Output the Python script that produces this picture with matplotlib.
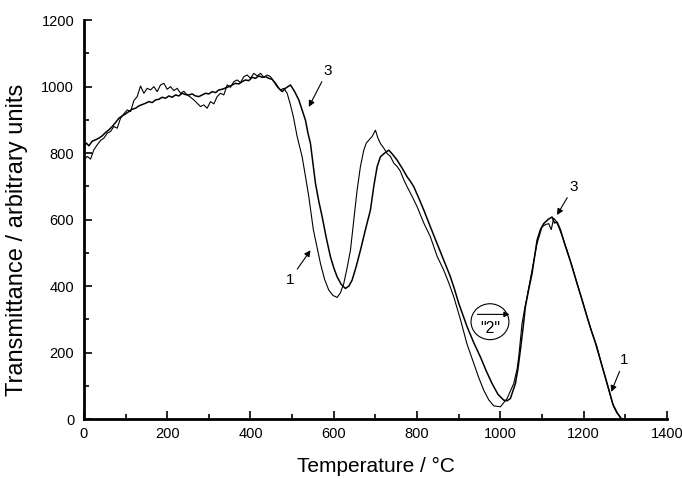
import numpy as np
import matplotlib
matplotlib.use("Agg")
import matplotlib.pyplot as plt
from matplotlib.patches import Ellipse

plt.rcParams['font.family'] = ['Liberation Sans', 'DejaVu Sans']

# curve 1 (left-shifted run)
temp_1 = [0, 8, 16, 24, 32, 40, 48, 56, 64, 72, 80, 88, 96, 104, 112, 120, 128, 136, 144, 152,
          160, 168, 176, 184, 192, 200, 208, 216, 224, 232, 240, 248, 256, 264, 272, 280, 288, 296,
          304, 312, 320, 328, 336, 344, 352, 360, 368, 376, 384, 392, 400, 408, 416, 424, 432, 440,
          448, 456, 464, 472, 480, 488, 496, 503, 512, 524, 532, 540, 551, 560, 568, 578, 588, 598,
          608, 616, 624, 632, 640, 648, 656, 664, 672, 678, 684, 692, 700, 706, 712, 720, 728, 736,
          744, 752, 760, 768, 776, 788, 800, 816, 832, 848, 864, 876, 888, 904, 920, 936, 948, 960,
          972, 984, 1000, 1016, 1032, 1040, 1044, 1052, 1058, 1064, 1076, 1088, 1100, 1108, 1116,
          1122, 1128, 1134, 1140, 1150, 1160, 1172, 1184, 1196, 1208, 1220, 1232, 1244, 1256, 1264,
          1272, 1280, 1288, 1292]
trans_1 = [780, 790, 782, 810, 825, 838, 845, 860, 865, 880, 875, 905, 918, 930, 925, 958, 970, 1002,
           980, 995, 990, 1000, 985, 1005, 1010, 992, 1000, 988, 995, 980, 986, 975, 968, 960, 950,
           940, 945, 935, 955, 948, 970, 980, 975, 1005, 998, 1015, 1020, 1012, 1030, 1035, 1025,
           1040, 1032, 1040, 1028, 1035, 1030, 1015, 1000, 990, 995, 980, 945, 909, 850, 789, 730,
           669, 569, 515, 468, 420, 388, 372, 366, 380, 408, 455, 508, 600, 689, 760, 809, 830, 839,
           850, 869, 845, 829, 815, 799, 790, 770, 760, 745, 720, 699, 670, 639, 590, 548, 490, 448,
           410, 368, 300, 225, 168, 125, 87, 58, 40, 37, 62, 107, 150, 187, 288, 330, 368, 448, 528,
           578, 585, 588, 570, 604, 595, 578, 545, 508, 460, 408, 360, 308, 260, 217, 160, 107, 70,
           37, 18, 5, 0]

# curve 3 (right-shifted run)
temp_3 = [0, 6, 12, 20, 28, 36, 44, 52, 60, 68, 76, 84, 92, 100, 108, 116, 124, 132, 140, 148, 156,
          164, 172, 180, 188, 196, 204, 212, 220, 228, 236, 244, 252, 260, 268, 276, 284, 292, 300,
          308, 316, 324, 332, 340, 348, 356, 364, 372, 380, 388, 396, 404, 412, 420, 428, 436, 444,
          452, 460, 468, 476, 484, 490, 496, 506, 516, 524, 532, 538, 544, 550, 556, 564, 572, 582,
          592, 600, 608, 618, 628, 636, 644, 654, 664, 676, 688, 696, 704, 712, 722, 732, 742, 752,
          764, 776, 784, 792, 804, 816, 832, 848, 864, 880, 890, 900, 920, 936, 952, 966, 980, 994,
          1008, 1016, 1024, 1036, 1042, 1048, 1054, 1060, 1068, 1076, 1088, 1096, 1104, 1114, 1124,
          1130, 1136, 1144, 1156, 1168, 1180, 1192, 1204, 1216, 1228, 1240, 1252, 1262, 1270, 1280,
          1290]
trans_3 = [820, 830, 822, 836, 840, 845, 852, 862, 870, 880, 892, 905, 912, 918, 925, 932, 935, 942,
           946, 950, 955, 952, 960, 962, 968, 965, 972, 968, 975, 972, 980, 976, 975, 978, 972, 970,
           975, 980, 978, 985, 982, 990, 992, 996, 1000, 1005, 1010, 1008, 1015, 1020, 1018, 1028,
           1025, 1032, 1028, 1030, 1025, 1022, 1010, 995, 985, 995, 1000, 1005, 985, 960, 930, 899,
           860, 829, 770, 709, 655, 609, 545, 488, 455, 428, 405, 393, 400, 418, 460, 508, 570, 629,
           700, 759, 789, 800, 809, 795, 779, 755, 729, 715, 699, 665, 629, 578, 528, 478, 428, 390,
           348, 278, 230, 187, 145, 107, 75, 57, 55, 62, 107, 150, 208, 270, 338, 390, 438, 538, 570,
           588, 600, 608, 590, 593, 570, 520, 475, 425, 375, 325, 275, 230, 178, 125, 82, 45, 20, 2]

fig = plt.figure(figsize=(6.82, 4.79), dpi=100)
ax = fig.add_axes([0.123, 0.125, 0.855, 0.833])

ax.plot(temp_1, trans_1, color='black', lw=0.8)
ax.plot(temp_3, trans_3, color='black', lw=1.1)

ax.set_xlim(0, 1400)
ax.set_ylim(0, 1200)
ax.set_xticks(np.arange(0, 1401, 200))
ax.set_yticks(np.arange(0, 1201, 200))
ax.set_xticks(np.arange(100, 1400, 200), minor=True)
ax.set_yticks(np.arange(100, 1200, 200), minor=True)
ax.tick_params(which='both', direction='in', width=1.2, labelsize=10.5)
ax.tick_params(which='major', length=6)
ax.tick_params(which='minor', length=3.5)
ax.tick_params(axis='x', pad=6)
ax.tick_params(axis='y', pad=7)
for s in ['top', 'right']:
    ax.spines[s].set_visible(False)
for s in ['left', 'bottom']:
    ax.spines[s].set_linewidth(2)

ax.set_xlabel('Temperature / °C', fontsize=15)
ax.set_ylabel('Transmittance / arbitrary units', fontsize=17)
ax.xaxis.set_label_coords(0.5, -0.095)
ax.yaxis.set_label_coords(-0.095, 0.45)

arrow = dict(arrowstyle='-|>', color='black', lw=0.8, mutation_scale=9, shrinkA=1, shrinkB=0)
ax.annotate('3', xy=(540, 939), xytext=(585, 1048), fontsize=11, ha='center', va='center',
            arrowprops=arrow)
ax.annotate('1', xy=(544, 508), xytext=(494, 418), fontsize=11, ha='center', va='center',
            arrowprops=arrow)
ax.annotate('3', xy=(1136, 614), xytext=(1176, 699), fontsize=11, ha='center', va='center',
            arrowprops=arrow)
ax.annotate('1', xy=(1266, 82), xytext=(1297, 177), fontsize=11, ha='center', va='center',
            arrowprops=arrow)

ax.add_patch(Ellipse((975, 293), 91, 108, fill=False, color='black', lw=0.8))
ax.annotate('', xy=(1022, 315), xytext=(945, 315),
            arrowprops=dict(arrowstyle='-|>', color='black', lw=0.8, mutation_scale=8,
                            shrinkA=0, shrinkB=0))
ax.text(975, 272, '"2"', fontsize=11.5, ha='center', va='center')

fig.savefig('out.png', dpi=100)
